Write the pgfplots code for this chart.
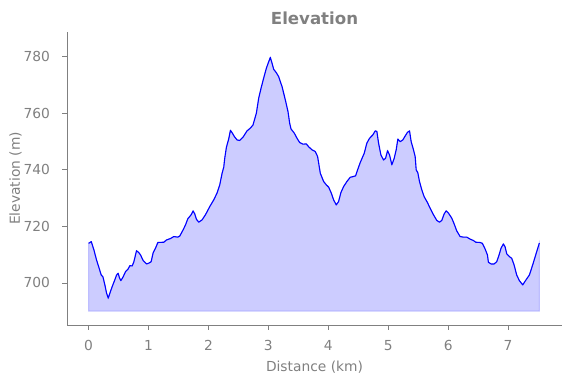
\documentclass[border=0pt]{standalone}
\usepackage{fontspec}
\setmainfont{DejaVu Sans}
\usepackage{pgfplots}
\pgfplotsset{compat=1.18}
\usepackage{pgfplotstable}
\usepgfplotslibrary{fillbetween}
\definecolor{txtgray}{RGB}{128,128,128}
\pgfplotstableread{
x y
0.000 714.0
0.045 714.6
0.089 711.7
0.133 708.1
0.172 705.5
0.211 702.8
0.239 702.2
0.272 699.3
0.300 696.4
0.328 694.6
0.356 696.4
0.394 698.7
0.433 700.8
0.467 702.8
0.494 703.4
0.517 701.7
0.539 700.8
0.578 702.2
0.617 704.0
0.656 704.8
0.689 706.1
0.728 706.0
0.756 707.5
0.800 711.4
0.839 710.7
0.867 709.9
0.911 707.9
0.967 706.7
1.006 707.0
1.044 707.5
1.078 710.7
1.117 712.3
1.156 714.3
1.256 714.4
1.300 715.2
1.367 715.7
1.422 716.4
1.489 716.2
1.522 716.6
1.578 718.8
1.617 720.5
1.656 722.7
1.711 724.1
1.744 725.5
1.772 724.4
1.800 722.5
1.839 721.5
1.894 722.3
1.950 724.1
2.022 727.0
2.089 729.4
2.144 731.8
2.189 734.7
2.228 738.8
2.256 741.0
2.272 744.1
2.300 748.0
2.339 751.0
2.367 754.0
2.394 753.2
2.433 751.8
2.478 750.6
2.522 750.4
2.578 751.6
2.644 753.8
2.700 754.8
2.744 755.9
2.800 760.1
2.839 765.4
2.878 768.9
2.922 772.5
2.967 776.0
3.006 778.3
3.033 779.8
3.061 777.8
3.089 775.6
3.133 774.4
3.172 773.0
3.228 769.5
3.283 764.8
3.328 760.6
3.356 756.5
3.378 754.5
3.433 753.0
3.478 751.2
3.522 749.7
3.578 749.1
3.633 749.2
3.672 748.2
3.728 747.1
3.783 746.5
3.822 744.7
3.867 738.8
3.922 735.9
3.967 734.7
4.006 733.9
4.050 731.8
4.089 729.4
4.133 727.6
4.172 728.8
4.211 732.0
4.256 734.1
4.311 735.9
4.367 737.4
4.411 737.6
4.456 737.9
4.489 740.0
4.533 742.6
4.600 745.9
4.644 749.5
4.689 751.2
4.744 752.4
4.783 753.8
4.811 753.6
4.839 749.5
4.878 745.3
4.922 743.5
4.956 744.1
4.989 746.8
5.022 745.3
5.061 741.8
5.100 744.1
5.133 747.1
5.161 750.9
5.200 750.0
5.244 750.6
5.283 752.0
5.322 753.3
5.356 753.8
5.383 750.0
5.422 747.1
5.450 744.7
5.467 740.0
5.494 739.0
5.522 735.9
5.561 732.9
5.600 730.5
5.656 728.4
5.700 726.4
5.756 724.1
5.811 722.1
5.856 721.5
5.894 722.1
5.933 724.4
5.967 725.5
6.006 724.7
6.061 722.9
6.100 720.9
6.144 718.4
6.200 716.4
6.256 716.2
6.311 716.2
6.367 715.5
6.422 715.0
6.461 714.4
6.533 714.3
6.572 714.0
6.617 712.0
6.656 709.9
6.672 707.3
6.717 706.7
6.767 706.7
6.811 707.5
6.850 709.9
6.883 712.3
6.922 713.8
6.950 712.8
6.978 710.3
7.022 709.3
7.061 708.7
7.100 706.4
7.144 702.8
7.189 700.8
7.244 699.3
7.300 701.1
7.356 702.8
7.411 706.4
7.467 710.3
7.522 714.1
}\elev
\begin{document}
\begin{tikzpicture}
\begin{axis}[
  scale only axis,
  width=495bp, height=293bp,
  xmin=-0.36, xmax=7.9,
  ymin=685.1, ymax=788.8,
  axis x line*=bottom, axis y line*=left,
  axis line style={txtgray, line width=0.8bp},
  tick style={txtgray, line width=0.8bp},
  tick align=outside,
  major tick length=4.9bp,
  xtick={0,1,2,3,4,5,6,7},
  ytick={700,720,740,760,780},
  /pgf/number format/assume math mode=true,
  ticklabel style={font=\fontsize{13.8bp}{16bp}\selectfont, text=txtgray, inner sep=0pt},
  xticklabel style={anchor=base, yshift=-21bp},
  yticklabel style={anchor=east, xshift=-12bp},
  xlabel={Distance (km)},
  ylabel={Elevation (m)},
  label style={font=\fontsize{13.8bp}{16bp}\selectfont, text=txtgray, inner sep=0pt},
  xlabel style={at={(axis description cs:0.5,-0.157)}, anchor=base},
  ylabel style={at={(axis description cs:-0.095,0.5)}, anchor=base},
  title={Elevation},
  title style={font=\bfseries\fontsize{16.6bp}{20bp}\selectfont, text=txtgray, at={(axis description cs:0.5,1.0068)}, anchor=base, inner sep=0pt},
]
\addplot[draw=none, name path=elevline] table[x=x, y=y] {\elev};
\addplot[draw=none, name path=base] coordinates {(0,690) (7.522,690)};
\addplot[fill=blue, fill opacity=0.2, draw=blue, draw opacity=0.2, line width=1bp] fill between[of=elevline and base];
\addplot[blue, line width=1.1bp, line join=round] table[x=x, y=y] {\elev};
\end{axis}
\path (-67bp,-53bp) rectangle (504bp,325bp);
\end{tikzpicture}
\end{document}
